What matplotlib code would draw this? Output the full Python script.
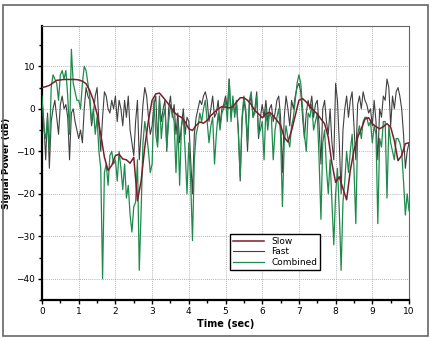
import matplotlib
matplotlib.use("Agg")
import matplotlib.pyplot as plt
import matplotlib.patches as patches
import numpy as np

# slow fading, sampled every 0.1 s
t_slow = np.arange(0, 101) * 0.1
slow = [5, 5.2, 5.5, 6.1, 6.7, 6.8, 6.9, 6.9, 6.9, 6.9,
        6.8, 6.5, 5.9, 4.3, 2, -1.2, -6, -11.4, -14.5, -13.3,
        -11, -10.7, -11.8, -12, -12.8, -11.4, -21.6, -17, -9, -2.7,
        2, 3.5, 3.7, 2.7, 1.6, 0.5, -0.8, -1.6, -2, -3.1,
        -4.7, -5.1, -3.9, -3.1, -3.4, -2.7, -1.6, -0.8, 0, 0.5,
        0.4, 0.2, 0.5, 1.6, 2.6, 2.6, 2, 1, -0.4, -1.2,
        -2.1, -1.2, -0.8, -1.6, -2.7, -3.9, -6.7, -7.8, -5.1, -1.6,
        2, 2.4, 1.6, 0.5, -0.4, -1.2, -2.4, -3.5, -6.7, -12.9,
        -17.3, -16, -18.8, -21.4, -14.5, -9.8, -6.7, -4.7, -2.4, -2.1,
        -3.5, -4.2, -4.7, -4.2, -3.5, -4.3, -7.5, -12.2, -11, -8.2,
        -8]

# fast fading and combined signal, sampled every 0.05 s
t_fast = np.arange(0, 201) * 0.05
fast = [2, -3, -12, -1, -14, -3, 0, 2, -2, -6, 1, 3, 0, 1, -2, -12, -1, 0, -3, -5,
        -7, -5, -8, 0, 5, 3, 2, -4, -1, 3, 5, -3, -10, -2, 4, 3, 0, -1, 2, 0,
        3, -3, 2, 0, -4, 2, -2, 3, -5, -8, -11, -3, 2, -12, -6, 1, 5, 3, -2, -6,
        -4, 1, 3, -8, 2, -3, 0, 2, -10, 0, 3, -2, 1, -6, -1, -8, -4, 0, -6, -2,
        -3, -12, -20, -6, -2, 0, 2, 1, 3, 4, 2, -3, 0, 3, -2, -1, 2, -4, 0, 1,
        3, 0, 7, -2, 2, -1, 1, -5, -17, -3, 2, -1, -10, 1, 3, -2, 0, 4, -7, -2,
        1, -2, 2, -3, 0, 1, -3, -1, 2, 3, -2, -15, -2, 3, 0, -4, 2, 0, 3, 5,
        6, 4, -2, -7, -1, 2, 0, 3, -2, 1, 2, -4, -13, 0, 2, -3, -6, 0, -8, -12,
        6, 2, -8, -20, -5, 0, 3, -2, 2, 4, -4, -12, 1, 3, 0, 4, 2, 1, -1, 0,
        -4, 2, -3, -12, 0, -2, 3, 2, 7, 5, -4, 3, 0, 4, 5, 3, 0, -6, -14, -10,
        -8]
combined = [3, -5, -7, -2, -10, 5, 8, 7, 6, 2, 8, 9, 7, 9, 3, -6, 14, 6, 4, 2,
            2, 0, 6, 10, 9, 6, 3, -3, 0, -6, -2, -10, -14, -40, -15, -13, -18, -11, -10, -13,
            -12, -17, -10, -14, -19, -13, -21, -18, -25, -29, -23, -22, -12, -38, -24, -8, -3, -6, -10, -15,
            -13, 2, -6, -9, 3, -7, -2, 0, -9, -3, 1, -1, -3, -15, -3, -18, -4, -2, -10, -20,
            -8, -17, -31, -12, -6, -4, -1, -3, 0, 2, -3, -8, -4, -2, -13, -6, -1, -5, -1, 0,
            2, -3, 7, -3, 3, -2, 2, -6, -16, -2, 3, 0, -8, 2, 4, -2, -1, 3, -6, -5,
            -3, -12, 0, -5, -1, -2, -12, -5, -2, 0, -6, -23, -8, -4, -7, -9, -4, -2, 2, 6,
            8, 6, 0, -6, -10, -1, -2, 1, -5, -3, -1, -12, -26, -8, -5, -14, -20, -12, -22, -32,
            -20, -14, -24, -38, -22, -17, -10, -15, -10, -6, -14, -27, -6, -4, -7, -3, -2, -2, -4, -3,
            -8, -4, -6, -27, -7, -9, -3, -3, -21, -4, -8, -10, -12, -7, -7, -8, -10, -17, -25, -20,
            -24]

xticks = list(range(0, 11))
yticks = [-40, -30, -20, -10, 0, 10]

fig = plt.figure(figsize=(4.31, 3.41), dpi=100)
ax = fig.add_axes([0.0975, 0.12, 0.8515, 0.804])

ax.plot(t_fast, combined, color="#1f8a4c", lw=0.9, label="Combined", zorder=3)
ax.plot(t_fast, fast, color="#404040", lw=0.8, label="Fast", zorder=2)
ax.plot(t_slow, slow, color="#7b1e2c", lw=1.1, label="Slow", zorder=4)

ax.set_xlim(0, 10)
ax.set_ylim(-45, 19.5)
ax.set_xticks(xticks)
ax.set_yticks(yticks)
ax.set_xticks(np.arange(0, 10.5, 0.5), minor=True)
ax.set_yticks(np.arange(-45, 20, 5), minor=True)
ax.tick_params(labelsize=6.5, length=3, width=1, direction="out", pad=2)
ax.tick_params(which="minor", length=2, width=1, direction="out")
ax.grid(True, which="major", color="#999999", ls=(0, (1, 1.5)), lw=0.6)

for s in ["left", "bottom"]:
    ax.spines[s].set_linewidth(1.6)
for s in ["top", "right"]:
    ax.spines[s].set_color("#666666")
    ax.spines[s].set_linewidth(0.8)

ax.set_xlabel("Time (sec)", fontsize=7, fontweight="bold", labelpad=2)
ax.set_ylabel("Signal Power (dB)", fontsize=6.5, fontweight="bold")
ax.yaxis.set_label_coords(-0.085, 0.5)

handles, labels = ax.get_legend_handles_labels()
order = [2, 1, 0]
leg = ax.legend([handles[i] for i in order], [labels[i] for i in order],
                loc="lower left", bbox_to_anchor=(0.5, 0.095), fontsize=6.5,
                fancybox=False, framealpha=1, edgecolor="black",
                borderpad=0.3, labelspacing=0.15, handlelength=3.5)
leg.get_frame().set_linewidth(1.0)

fig.patches.append(patches.Rectangle((3 / 431, 5 / 341), 425 / 431, 331 / 341,
                                     transform=fig.transFigure, fill=False,
                                     edgecolor="#666666", lw=1.2))

fig.savefig("out.png", dpi=100)
